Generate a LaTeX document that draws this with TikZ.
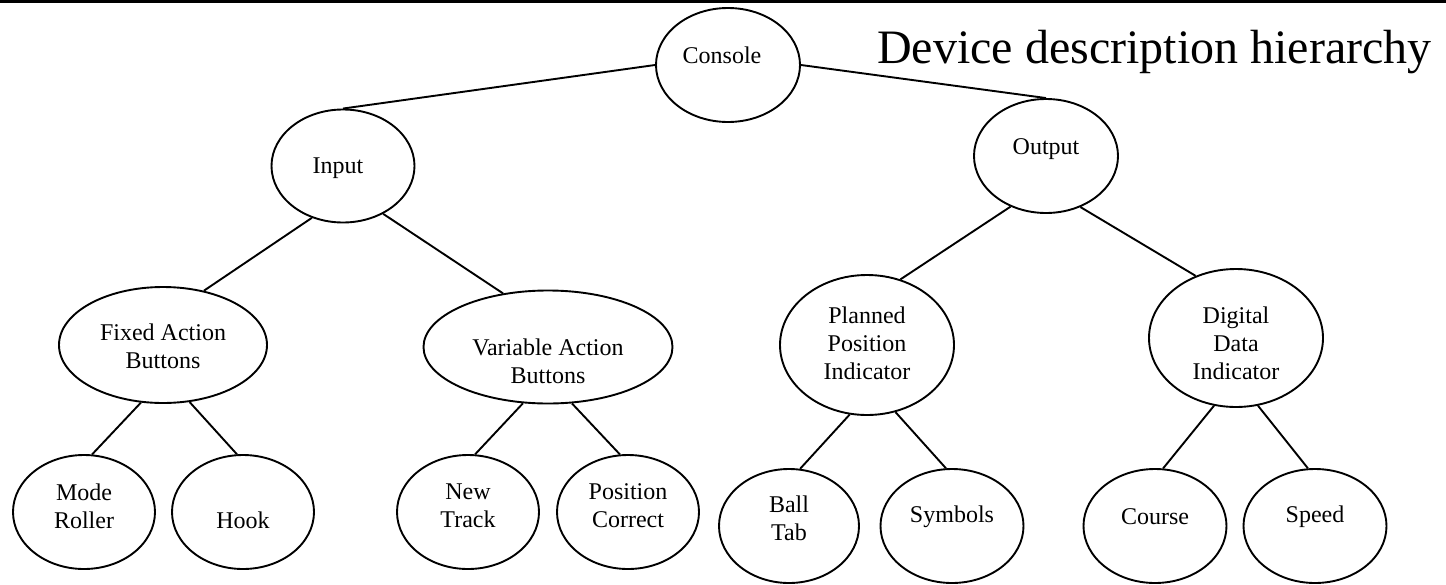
\documentclass[tikz,border=0pt]{standalone}
\usepackage{fontspec}
\setmainfont{Liberation Serif}
\usetikzlibrary{shapes.geometric}

\begin{document}
\begin{tikzpicture}[x=1pt,y=-1pt,
    every node/.style={font=\fontsize{24}{28}\selectfont},
    every label/.style={align=center},
    bubble/.style={ellipse,draw,line width=1.9pt,inner sep=0pt,
                   minimum width=142,minimum height=114},
    link/.style={line width=1.9pt}]
  \useasboundingbox (0,0) rectangle (1446,584);
  % Rule along the top edge
  \draw[line width=2.7pt] (0,1.35) -- (1446,1.35);
  % Title
  \node[anchor=base west,inner sep=0pt,font=\fontsize{48}{56}\selectfont]
    (title) at (877,63) {Device description hierarchy};
  % Root and first level
  \node[bubble,minimum width=144,label={[xshift=-6pt,yshift=10pt]center:Console}]
    (console) at (728,65) {};
  \node[bubble,minimum width=143,minimum height=113,label={[xshift=-5pt,yshift=-2pt]center:Input}]
    (input) at (343,166) {};
  \node[bubble,minimum width=144,label={[yshift=7pt]center:Output}]
    (output) at (1046,156) {};
  % Second level
  \node[bubble,minimum width=208,minimum height=116,label={[yshift=-1pt]center:Fixed Action\\Buttons}]
    (fab) at (163,345) {};
  \node[bubble,minimum width=249,minimum height=113,label={[yshift=-14pt]center:Variable Action\\Buttons}]
    (vab) at (548,347) {};
  \node[bubble,minimum width=174,minimum height=140,label={[yshift=2pt]center:Planned\\Position\\Indicator}]
    (ppi) at (867,345) {};
  \node[bubble,minimum width=174,minimum height=138,label={[yshift=-5pt]center:Digital\\Data\\Indicator}]
    (ddi) at (1236,338) {};
  % Leaves
  \node[bubble,label={[yshift=6pt]center:Mode\\Roller}] (mode) at (84,512) {};
  \node[bubble,label={[yshift=-8pt]center:Hook}] (hook) at (243,512) {};
  \node[bubble,label={[yshift=6pt]center:New\\Track}] (newtrack) at (468,512) {};
  \node[bubble,label={[yshift=6pt]center:Position\\Correct}] (poscorr) at (628,512) {};
  \node[bubble,minimum width=140,label={[yshift=8pt]center:Ball\\Tab}] (balltab) at (789,526) {};
  \node[bubble,minimum width=143,label={[yshift=9pt]center:Symbols}] (symbols) at (952,526) {};
  \node[bubble,minimum width=143,label={[yshift=9pt]center:Course}] (course) at (1155,526) {};
  \node[bubble,minimum width=143,label={[yshift=9pt]center:Speed}] (speed) at (1315,526) {};
  % Connectors
  \draw[link] (console.west) -- (input.north);
  \draw[link] (console.east) -- (output.north);
  \draw[link] (input.239) -- (fab.53);
  \draw[link] (input.310) -- (vab.130);
  \draw[link] (output.235) -- (ppi.63);
  \draw[link] (output.304) -- (ddi.123);
  \draw[link] (fab.249) -- (mode.82);
  \draw[link] (fab.295) -- (hook.96);
  \draw[link] (vab.246) -- (newtrack.83);
  \draw[link] (vab.293) -- (poscorr.98);
  \draw[link] (ppi.256) -- (balltab.79);
  \draw[link] (ppi.293) -- (symbols.96);
  \draw[link] (ddi.252) -- (course.82);
  \draw[link] (ddi.288) -- (speed.97);
\end{tikzpicture}
\end{document}
